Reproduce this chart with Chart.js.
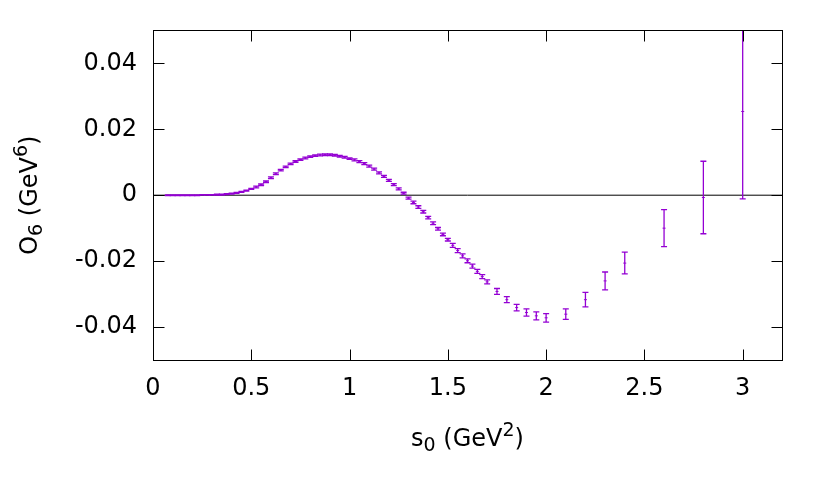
<!DOCTYPE html>
<html lang="en">
<head>
<meta charset="UTF-8">
<title>O6 vs s0</title>
<script src="https://cdn.jsdelivr.net/npm/chart.js"></script>
<style>
  body { margin: 0; background: #fff; }
  #c { display: block; }
</style>
</head>
<body>
<canvas id="c" width="830" height="485"></canvas>
<script>
// s0 values (GeV^2)
const s0 = [0.075,0.1,0.125,0.15,0.175,0.2,0.225,0.25,0.275,0.3,0.325,0.35,0.375,0.4,
  0.425,0.45,0.475,0.5,0.525,0.55,0.575,0.6,0.625,0.65,0.675,0.7,0.725,0.75,0.775,0.8,
  0.825,0.85,0.875,0.9,0.925,0.95,0.975,1.0,1.025,1.05,1.075,1.1,1.125,1.15,1.175,1.2,
  1.225,1.25,1.275,1.3,1.325,1.35,1.375,1.4,1.425,1.45,1.475,1.5,1.525,1.55,1.575,1.6,
  1.625,1.65,1.675,1.7,1.75,1.8,1.85,1.9,1.95,2.0,2.1,2.2,2.3,2.4,2.6,2.8,3.0];

// O6 central values (GeV^6)
const o6 = [0,0,0,0,0,0,0,0.0001,0.0001,0.0001,0.0002,0.0002,0.0003,0.0005,
  0.0007,0.0010,0.0014,0.0019,0.0025,0.0032,0.0041,0.0053,0.0065,0.0076,0.0086,0.0095,0.0102,0.0108,0.0113,0.0117,
  0.0120,0.0122,0.0123,0.0123,0.0121,0.0118,0.0115,0.0111,0.0107,0.0102,0.0096,0.0088,0.0079,0.0068,0.0057,0.0045,
  0.0032,0.0019,0.0006,-0.0009,-0.0022,-0.0036,-0.0050,-0.0068,-0.0085,-0.0102,-0.0119,-0.0135,-0.0152,-0.0168,-0.0184,-0.0199,
  -0.0215,-0.0231,-0.0247,-0.0263,-0.0292,-0.0317,-0.0341,-0.0356,-0.0366,-0.0372,-0.0361,-0.0317,-0.0260,-0.0206,-0.0100,-0.0007,0.0254];

// symmetric errors
const o6Err = [0.0001,0.0001,0.0001,0.0001,0.0001,0.0001,0.0001,0.0001,0.0001,0.0001,0.00015,0.00015,0.00015,0.00015,
  0.00015,0.00015,0.00015,0.00015,0.00025,0.00025,0.00025,0.00025,0.00025,0.00025,0.00025,0.00025,0.00025,0.00025,0.00025,0.00025,
  0.00025,0.00025,0.00025,0.00025,0.00025,0.00025,0.00025,0.00025,0.0003,0.0003,0.0003,0.0003,0.0003,0.0003,0.0003,0.0003,
  0.0003,0.0003,0.0003,0.0003,0.0004,0.0004,0.0004,0.0004,0.0004,0.0004,0.0004,0.0004,0.0006,0.0006,0.0006,0.0006,
  0.0006,0.0006,0.0006,0.0006,0.0009,0.0009,0.0010,0.0011,0.0012,0.0013,0.0016,0.0022,0.0027,0.0033,0.0056,0.0110,0.0265];

const xTicks = [0, 0.5, 1, 1.5, 2, 2.5, 3];
const yTicks = [-0.04, -0.02, 0, 0.02, 0.04];
const xRange = [0, 3.2];
const yRange = [-0.05, 0.05];

const purple = '#9400d3';
const font = 'DejaVu Sans';
const fontSize = 24;

// error bars with caps, clipped to the plot box
const errorBars = {
  id: 'errorBars',
  afterDatasetsDraw(chart) {
    const { ctx, chartArea: a, scales: { x, y } } = chart;
    ctx.save();
    ctx.beginPath();
    ctx.rect(a.left, a.top, a.right - a.left, a.bottom - a.top);
    ctx.clip();
    ctx.strokeStyle = purple;
    ctx.lineWidth = 1.3;
    for (let i = 0; i < s0.length; i++) {
      const px = x.getPixelForValue(s0[i]);
      const lo = y.getPixelForValue(o6[i] - o6Err[i]);
      const hi = y.getPixelForValue(o6[i] + o6Err[i]);
      ctx.beginPath();
      ctx.moveTo(px, lo); ctx.lineTo(px, hi);
      ctx.moveTo(px - 3, lo); ctx.lineTo(px + 3, lo);
      ctx.moveTo(px - 3, hi); ctx.lineTo(px + 3, hi);
      ctx.stroke();
    }
    ctx.restore();
  }
};

// frame, mirrored inward ticks, axis titles
const frame = {
  id: 'frame',
  afterDraw(chart) {
    const { ctx, chartArea: a, scales: { x, y } } = chart;
    const L = Math.round(a.left) + 0.5, R = Math.round(a.right) + 0.5;
    const T = Math.round(a.top) + 0.5, B = Math.round(a.bottom) + 0.5;
    const tl = 11;
    ctx.save();
    ctx.strokeStyle = '#000';
    ctx.lineWidth = 1;
    ctx.beginPath();
    xTicks.forEach(v => {
      const p = Math.round(x.getPixelForValue(v)) + 0.5;
      ctx.moveTo(p, B); ctx.lineTo(p, B - tl);
      ctx.moveTo(p, T); ctx.lineTo(p, T + tl);
    });
    yTicks.forEach(v => {
      const p = Math.round(y.getPixelForValue(v)) + 0.5;
      ctx.moveTo(L, p); ctx.lineTo(L + tl, p);
      ctx.moveTo(R, p); ctx.lineTo(R - tl, p);
    });
    ctx.stroke();
    ctx.strokeRect(L, T, R - L, B - T);

    ctx.fillStyle = '#000';
    drawRich(ctx, [['s'], ['0', 'sub'], [' (GeV'], ['2', 'sup'], [')']],
      (a.left + a.right) / 2, a.bottom + 86, 0);
    drawRich(ctx, [['O'], ['6', 'sub'], [' (GeV'], ['6', 'sup'], [')']],
      a.left - 116, (a.top + a.bottom) / 2, -Math.PI / 2);
    ctx.restore();
  }
};

function drawRich(ctx, parts, cx, cy, rot) {
  const big = fontSize + 'px "' + font + '"';
  const small = Math.round(fontSize * 0.8) + 'px "' + font + '"';
  let w = 0;
  parts.forEach(p => { ctx.font = p[1] ? small : big; p.w = ctx.measureText(p[0]).width; w += p.w; });
  ctx.save();
  ctx.translate(cx, cy);
  ctx.rotate(rot);
  ctx.textBaseline = 'alphabetic';
  ctx.textAlign = 'left';
  let xx = -w / 2;
  parts.forEach(p => {
    ctx.font = p[1] ? small : big;
    const dy = p[1] === 'sub' ? 5 : p[1] === 'sup' ? -10 : 0;
    ctx.fillText(p[0], xx, dy);
    xx += p.w;
  });
  ctx.restore();
}

new Chart(document.getElementById('c'), {
  type: 'scatter',
  data: {
    datasets: [
      {
        data: [{ x: xRange[0], y: 0 }, { x: xRange[1], y: 0 }],
        showLine: true,
        borderColor: '#000',
        borderWidth: 1,
        pointRadius: 0
      },
      {
        data: s0.map((v, i) => ({ x: v, y: o6[i] })),
        pointStyle: 'line',
        pointRadius: 1.5,
        borderColor: purple,
        backgroundColor: purple,
        borderWidth: 1
      }
    ]
  },
  options: {
    responsive: false,
    animation: false,
    layout: { padding: { top: 30, right: 48, left: 0, bottom: 0 } },
    plugins: { legend: { display: false }, tooltip: { enabled: false } },
    scales: {
      x: {
        type: 'linear',
        min: xRange[0], max: xRange[1],
        grid: { display: false, drawTicks: false },
        border: { display: false },
        afterBuildTicks: s => { s.ticks = xTicks.map(v => ({ value: v })); },
        afterFit: s => { s.height = 125; },
        ticks: {
          padding: 14,
          color: '#000',
          font: { family: font, size: fontSize },
          maxRotation: 0,
          callback: v => String(v)
        }
      },
      y: {
        type: 'linear',
        min: yRange[0], max: yRange[1],
        grid: { display: false, drawTicks: false },
        border: { display: false },
        afterBuildTicks: s => { s.ticks = yTicks.map(v => ({ value: v })); },
        afterFit: s => { s.width = 153; },
        ticks: {
          padding: 16,
          color: '#000',
          font: { family: font, size: fontSize },
          callback: v => (v === 0 ? '0' : v.toFixed(2))
        }
      }
    }
  },
  plugins: [errorBars, frame]
});
</script>
</body>
</html>
